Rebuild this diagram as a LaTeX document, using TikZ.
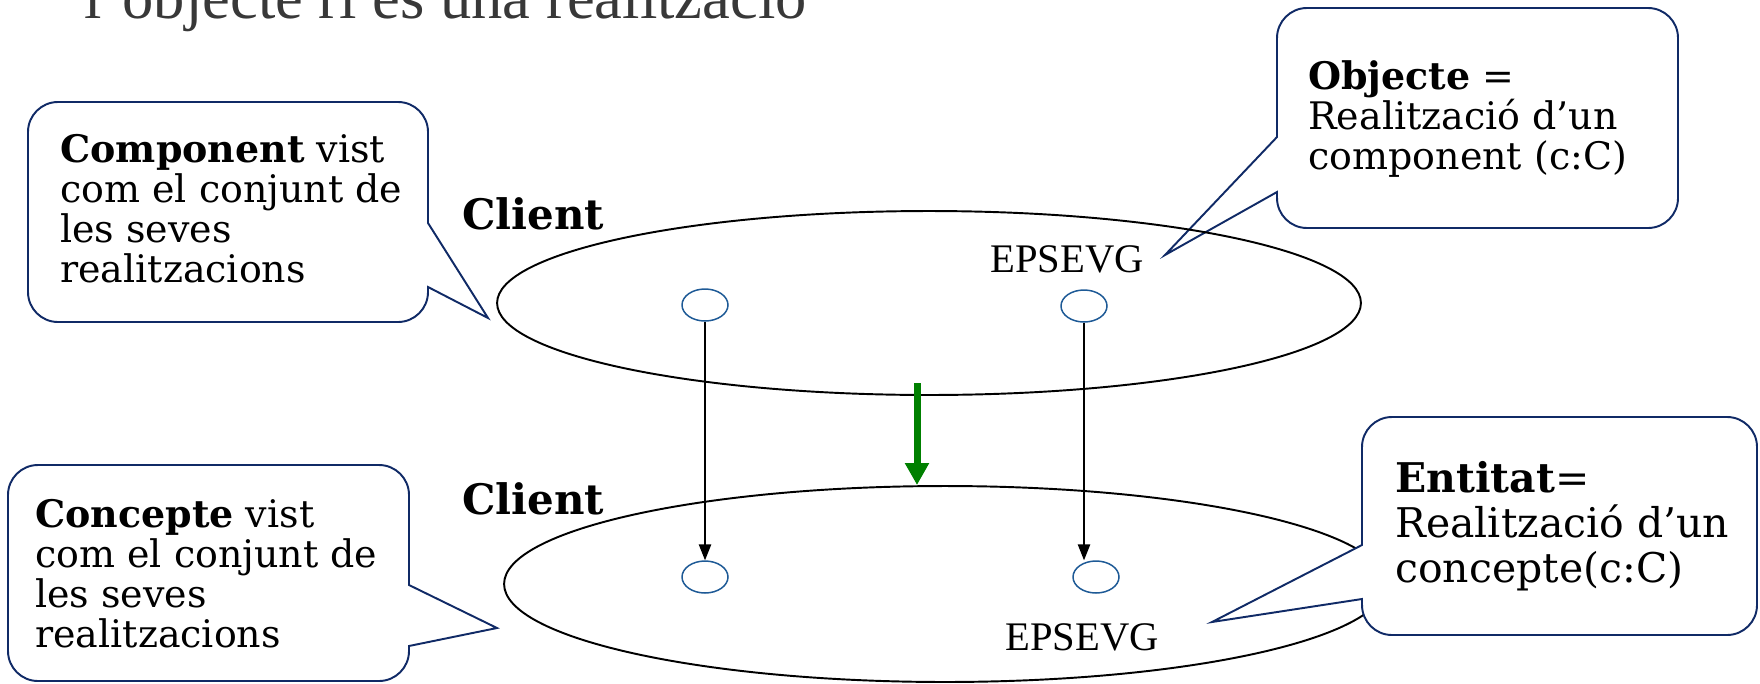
\documentclass[tikz,border=0pt]{standalone}
\usepackage{fontspec}
\setmainfont{DejaVu Serif}
\newfontfamily\timesfont{Liberation Serif}
\usepackage{tikz}
\usetikzlibrary{shapes,arrows}
\usetikzlibrary{arrows.meta}

\definecolor{navy}{RGB}{16,42,102}
\definecolor{dotblue}{RGB}{30,90,150}
\definecolor{darkgreen}{RGB}{0,128,0}

\begin{document}
\begin{tikzpicture}[x=0.02cm,y=-0.02cm,
	plane/.style={draw,ellipse,line width=1.1pt,inner sep=0pt},
	dot/.style={draw=dotblue,ellipse,line width=0.85pt,minimum width=0.92cm,minimum height=0.64cm,inner sep=0pt},
	arr/.style={line width=0.75pt,-{Triangle[length=9pt,width=7pt]}},
	bigarr/.style={draw=darkgreen,line width=4pt,-{Triangle[length=12.5pt,width=13pt]}},
	callout/.style={draw=navy,fill=white,line width=1.1pt},
	txt/.style={inner sep=0pt,align=left,font=\fontsize{21.6pt}{22.8pt}\selectfont},
	bigtxt/.style={inner sep=0pt,align=left,font=\fontsize{23.3pt}{25.6pt}\selectfont},
	lbl/.style={inner sep=0pt,font=\bfseries\fontsize{23.9pt}{26pt}\selectfont},
	epsevg/.style={inner sep=0pt,font=\timesfont\fontsize{23.1pt}{26pt}\selectfont}]
	\useasboundingbox (0,0) rectangle (1760,683);

	\node[anchor=base west,inner sep=0pt,text=black!78,font=\timesfont\fontsize{35.6pt}{40pt}\selectfont] (title) at (84,18) {l’objecte ri és una realització};

	% callout behind the upper plane
	\draw[callout] (1478,8) [rounded corners=0.6cm] -- (1678,8) -- (1678,228) -- (1277,228)
		[sharp corners] -- (1277,192) -- (1165,255) -- (1277,137) [rounded corners=0.6cm] -- (1277,8) -- cycle;
	\node[txt,anchor=north west] (objtext) at (1308,60) {\textbf{Objecte} =\\Realització d’un\\component (c:C)};

	\node[plane,minimum width=17.28cm,minimum height=3.68cm] (comp) at (929,303) {};
	\node[plane,minimum width=17.64cm,minimum height=3.92cm] (conc) at (945,584) {};

	\node[lbl,anchor=base west] (client1) at (462,229) {Client};
	\node[lbl,anchor=base west] (client2) at (462,514) {Client};
	\node[epsevg,anchor=base west] (eps1) at (990,272) {EPSEVG};
	\node[epsevg,anchor=base west] (eps2) at (1005,650) {EPSEVG};

	\node[dot] (t1) at (705,305) {};
	\node[dot] (t2) at (1084,306) {};
	\node[dot] (b1) at (705,577) {};
	\node[dot] (b2) at (1096,577) {};

	\draw[arr] (t1) -- (b1);
	\draw[arr] (t2.south) -- (t2.south |- b2.north);

	\coordinate (gstart) at (917,383);
	\draw[bigarr] (gstart) -- (gstart |- conc.north);

	% callouts
	\draw[callout] (228,102) [rounded corners=0.6cm] -- (428,102)
		[sharp corners] -- (428,223) -- (488,318) -- (428,287) [rounded corners=0.6cm] -- (428,322) -- (28,322) -- (28,102) -- cycle;
	\node[txt,anchor=north west] (comptext) at (60,134) {\textbf{Component} vist\\com el conjunt de\\les seves\\realitzacions};

	\draw[callout] (208,465) [rounded corners=0.6cm] -- (409,465)
		[sharp corners] -- (409,585) -- (497,628) -- (409,646) [rounded corners=0.6cm] -- (409,681) -- (8,681) -- (8,465) -- cycle;
	\node[txt,anchor=north west] (conctext) at (35,499) {\textbf{Concepte} vist\\com el conjunt de\\les seves\\realitzacions};

	\draw[callout] (1560,417) [rounded corners=0.6cm] -- (1757,417) -- (1757,635) -- (1362,635)
		[sharp corners] -- (1362,599) -- (1212,622) -- (1362,545) [rounded corners=0.6cm] -- (1362,417) -- cycle;
	\node[bigtxt,anchor=north west] (enttext) at (1395,461) {\textbf{Entitat}=\\Realització d’un\\concepte(c:C)};
\end{tikzpicture}
\end{document}
